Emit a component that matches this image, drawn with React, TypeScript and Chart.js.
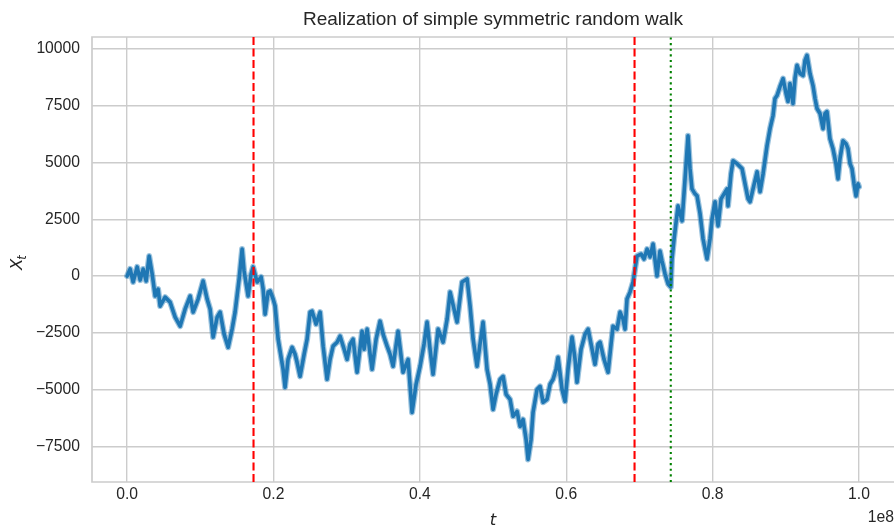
import React, { useEffect, useRef } from "react";
import { Chart, registerables } from "chart.js";

Chart.register(...registerables);

const TITLE = "Realization of simple symmetric random walk";
const X_LABEL = "t";
const OFFSET_TEXT = "1e8";

// time in millions of steps
const tMillions = [
  0, 0.41, 0.82, 1.37, 1.78, 2.19, 2.6, 3.01, 3.42, 3.83, 4.23, 4.51, 5.19, 5.87, 6.56, 7.24, 7.92, 8.61, 9.02, 9.7,
  10.38, 10.93, 11.34, 11.75, 12.3, 12.7, 13.25, 13.8, 14.34, 14.75, 15.3, 15.71, 15.98, 16.53, 16.94, 17.21, 17.76,
  18.31, 18.58, 18.85, 19.26, 19.54, 19.95, 20.22, 20.63, 21.31, 21.58, 21.99, 22.54, 22.95, 23.22, 23.63, 24.18,
  24.59, 25.0, 25.27, 25.82, 26.37, 26.78, 27.32, 27.73, 28.14, 28.69, 29.1, 29.65, 30.05, 30.46, 30.87, 31.42,
  32.1, 32.38, 32.79, 33.2, 33.47, 34.02, 34.56, 34.97, 35.52, 35.93, 36.34, 37.02, 37.7, 38.39, 38.93, 39.48,
  40.03, 40.57, 40.98, 41.39, 41.8, 42.49, 43.17, 43.72, 44.13, 44.67, 45.08, 45.76, 46.45, 46.86, 47.27, 47.81,
  48.22, 48.63, 49.18, 49.59, 50.0, 50.41, 50.96, 51.37, 51.78, 52.32, 52.73, 53.28, 53.69, 54.1, 54.51, 54.78,
  55.19, 55.46, 56.01, 56.42, 56.83, 57.38, 57.79, 58.2, 58.61, 58.88, 59.42, 59.83, 60.24, 60.79, 61.2, 61.47,
  62.02, 62.57, 62.98, 63.39, 63.93, 64.34, 64.62, 65.16, 65.71, 66.12, 66.39, 66.94, 67.35, 67.76, 68.03, 68.3,
  68.71, 69.12, 69.4, 69.67, 70.22, 70.63, 71.04, 71.45, 71.86, 72.4, 72.81, 73.09, 73.5, 73.91, 74.28, 74.45,
  74.73, 75.27, 75.82, 76.23, 76.64, 76.91, 77.18, 77.59, 77.87, 78.28, 78.69, 79.23, 79.64, 79.92, 80.33, 80.74,
  81.15, 81.56, 81.97, 82.1, 82.51, 82.79, 83.33, 84.02, 84.43, 84.84, 85.11, 85.52, 86.07, 86.48, 86.89, 87.43,
  87.84, 88.25, 88.52, 88.8, 89.21, 89.62, 90.03, 90.3, 90.57, 90.98, 91.25, 91.53, 91.94, 92.35, 92.62, 92.89,
  93.3, 93.71, 93.99, 94.26, 94.67, 95.08, 95.35, 95.62, 96.03, 96.44, 96.85, 97.13, 97.4, 97.81, 98.22, 98.49,
  98.77, 99.04, 99.32, 99.59, 99.86, 100.0,
];

const walkValues = [
  0, 310, -265, 400, -180, 310, -220, 880, 90, -880, -575, -1325, -930, -1150, -1810, -2210, -1460, -880, -1590, -1015,
  -220, -1015, -1460, -2690, -1810, -1590, -2560, -3140, -2340, -1590, -130, 1190, 220, -880, 90, 400, -265,
  -44, -575, -1680, -710, -660, -1015, -1325, -2780, -4110, -4900, -3670, -3140, -3450, -3800, -4420, -3450,
  -2780, -1590, -1550, -2120, -1590, -3090, -4550, -3670, -3090, -2915, -2650, -3225, -3670, -3000, -2780, -4240,
  -2430, -3225, -2340, -3450, -4110, -2780, -1990, -2560, -3090, -3450, -3975, -2430, -4240, -3670, -6010, -4770,
  -3975, -3000, -2030, -3225, -4330, -2340, -2915, -1900, -710, -1460, -2030, -265, -130, -1325, -2780, -3975,
  -3000, -2030, -4110, -4770, -5875, -5210, -4550, -4420, -5210, -5430, -6180, -5960, -6630, -6320, -7200, -8080,
  -7200, -6010, -4990, -4860, -5565, -5430, -4770, -4550, -4110, -3580, -4990, -5520, -4110, -2690, -3670, -4680,
  -3225, -2560, -2340, -3000, -3890, -3000, -2915, -3670, -4240, -3000, -2210, -2340, -1590, -1900, -2340, -1015,
  -710, -265, 310, 880, 970, 750, 1190, 840, 1410, 0, 1100, 660, 90, -350, -485, 750,
  1630, 3090, 2430, 4280, 6180, 4730, 3840, 3620, 3530, 2740, 1630, 750, 1630, 2520, 3270, 2210,
  3400, 3620, 3840, 3090, 4500, 5080, 4950, 4730, 4060, 3400, 3270, 3840, 4590, 3710, 4500, 5740,
  6490, 7070, 7820, 7950, 8350, 8700, 8040, 7690, 8480, 7600, 8700, 9280, 8920, 8830, 9500, 9720,
  8920, 8390, 7820, 7380, 7160, 6490, 7160, 7240, 6050, 5610, 4950, 4280, 5170, 5960, 5830, 5610,
  4950, 4730, 4060, 3530, 4060, 3930,
];

const xTickValues = [0, 2e7, 4e7, 6e7, 8e7, 1e8];
const yTickValues = [-7500, -5000, -2500, 0, 2500, 5000, 7500, 10000];
const redDashedTimes = [17.27e6, 69.33e6];
const greenDottedTimes = [74.28e6];

const TEXT_COLOR = "#262626";
const GRID_COLOR = "#cccccc";
const SANS = 'Arial, "Liberation Sans", sans-serif';
const MATH = '"DejaVu Sans", sans-serif';

export default function App() {
  const ref = useRef<HTMLCanvasElement | null>(null);

  useEffect(() => {
    document.body.style.margin = "0";
    const canvas = ref.current;
    if (!canvas) return;

    const decor = {
      id: "decor",
      beforeDraw(chart: any) {
        const ctx = chart.ctx;
        ctx.save();
        ctx.fillStyle = "#ffffff";
        ctx.fillRect(0, 0, chart.width, chart.height);
        ctx.restore();
      },
      beforeDatasetsDraw(chart: any) {
        const { ctx, chartArea } = chart;
        ctx.save();
        ctx.strokeStyle = GRID_COLOR;
        ctx.lineWidth = 1.7;
        ctx.beginPath();
        // top, left and bottom spines; the right spine lies just outside the picture
        ctx.moveTo(chart.width + 5, chartArea.top);
        ctx.lineTo(chartArea.left, chartArea.top);
        ctx.lineTo(chartArea.left, chartArea.bottom);
        ctx.lineTo(chart.width + 5, chartArea.bottom);
        ctx.stroke();
        ctx.restore();
      },
      afterDatasetsDraw(chart: any) {
        const { ctx, chartArea, scales } = chart;
        const xs = scales.x;
        ctx.save();
        ctx.beginPath();
        ctx.rect(chartArea.left, chartArea.top, chartArea.right - chartArea.left, chartArea.bottom - chartArea.top);
        ctx.clip();
        const drawV = (t: number, color: string, dash: number[]) => {
          const px = xs.getPixelForValue(t);
          ctx.beginPath();
          ctx.strokeStyle = color;
          ctx.lineWidth = 2.1;
          ctx.lineCap = "butt";
          ctx.setLineDash(dash);
          ctx.moveTo(px, chartArea.bottom);
          ctx.lineTo(px, chartArea.top);
          ctx.stroke();
        };
        redDashedTimes.forEach((t) => drawV(t, "#ff0000", [8, 3.5]));
        greenDottedTimes.forEach((t) => drawV(t, "#008000", [2.1, 3.5]));
        ctx.restore();
      },
      afterDraw(chart: any) {
        const { ctx, chartArea } = chart;
        const cx = (chartArea.left + chartArea.right) / 2;
        ctx.save();
        ctx.fillStyle = TEXT_COLOR;
        ctx.font = `19px ${SANS}`;
        ctx.textAlign = "center";
        ctx.textBaseline = "alphabetic";
        ctx.fillText(TITLE, cx, 25);
        ctx.font = `italic 16.5px ${MATH}`;
        ctx.fillText(X_LABEL, cx, 525);
        ctx.font = `15.7px ${SANS}`;
        ctx.textAlign = "right";
        ctx.fillText(OFFSET_TEXT, 894, 522);
        ctx.translate(22, 270);
        ctx.rotate(-Math.PI / 2);
        ctx.textAlign = "left";
        ctx.font = `italic 16.5px ${MATH}`;
        ctx.fillText("X", 0, 0);
        const w = ctx.measureText("X").width;
        ctx.font = `italic 11.5px ${MATH}`;
        ctx.fillText("t", w - 1, 3.5);
        ctx.restore();
      },
    };

    const points = tMillions.map((t, i) => ({ x: t * 1e6, y: walkValues[i] }));

    const chart = new Chart(canvas, {
      type: "line",
      data: {
        datasets: [
          {
            data: points,
            borderColor: "#1f77b4",
            borderWidth: 3.6,
            pointRadius: 0,
            tension: 0,
            borderJoinStyle: "round",
            borderCapStyle: "round",
            fill: false,
            order: 1,
          },
          {
            data: points,
            borderColor: "rgba(31,119,180,0.45)",
            borderWidth: 6,
            pointRadius: 0,
            tension: 0,
            borderJoinStyle: "round",
            borderCapStyle: "round",
            fill: false,
            order: 2,
          },
        ],
      },
      options: {
        animation: false,
        responsive: false,
        devicePixelRatio: 1,
        layout: { padding: { top: 37, left: 0, right: 0, bottom: 0 } },
        plugins: { legend: { display: false }, title: { display: false }, tooltip: { enabled: false } },
        scales: {
          x: {
            type: "linear",
            min: -0.048e8,
            max: 1.0478e8,
            afterBuildTicks: (s: any) => {
              s.ticks = xTickValues.map((v) => ({ value: v }));
            },
            afterFit: (s: any) => {
              s.height = 45;
            },
            border: { display: false },
            grid: { color: GRID_COLOR, lineWidth: 1.4, drawTicks: false },
            ticks: {
              color: TEXT_COLOR,
              font: { family: SANS, size: 15.7 },
              padding: 3,
              maxRotation: 0,
              autoSkip: false,
              callback: (v: any) => (Number(v) / 1e8).toFixed(1),
            },
          },
          y: {
            type: "linear",
            min: -9075,
            max: 10530,
            afterBuildTicks: (s: any) => {
              s.ticks = yTickValues.map((v) => ({ value: v }));
            },
            afterFit: (s: any) => {
              s.width = 92;
            },
            border: { display: false },
            grid: { color: GRID_COLOR, lineWidth: 1.4, drawTicks: false },
            ticks: {
              color: TEXT_COLOR,
              font: { family: SANS, size: 15.7 },
              padding: 12,
              autoSkip: false,
              callback: (v: any) => {
                const n = Number(v);
                return n < 0 ? "\u2212" + Math.abs(n) : String(n);
              },
            },
          },
        },
      },
      plugins: [decor],
    } as any);

    return () => chart.destroy();
  }, []);

  return <canvas ref={ref} width={894} height={527} style={{ display: "block", width: 894, height: 527 }} />;
}
